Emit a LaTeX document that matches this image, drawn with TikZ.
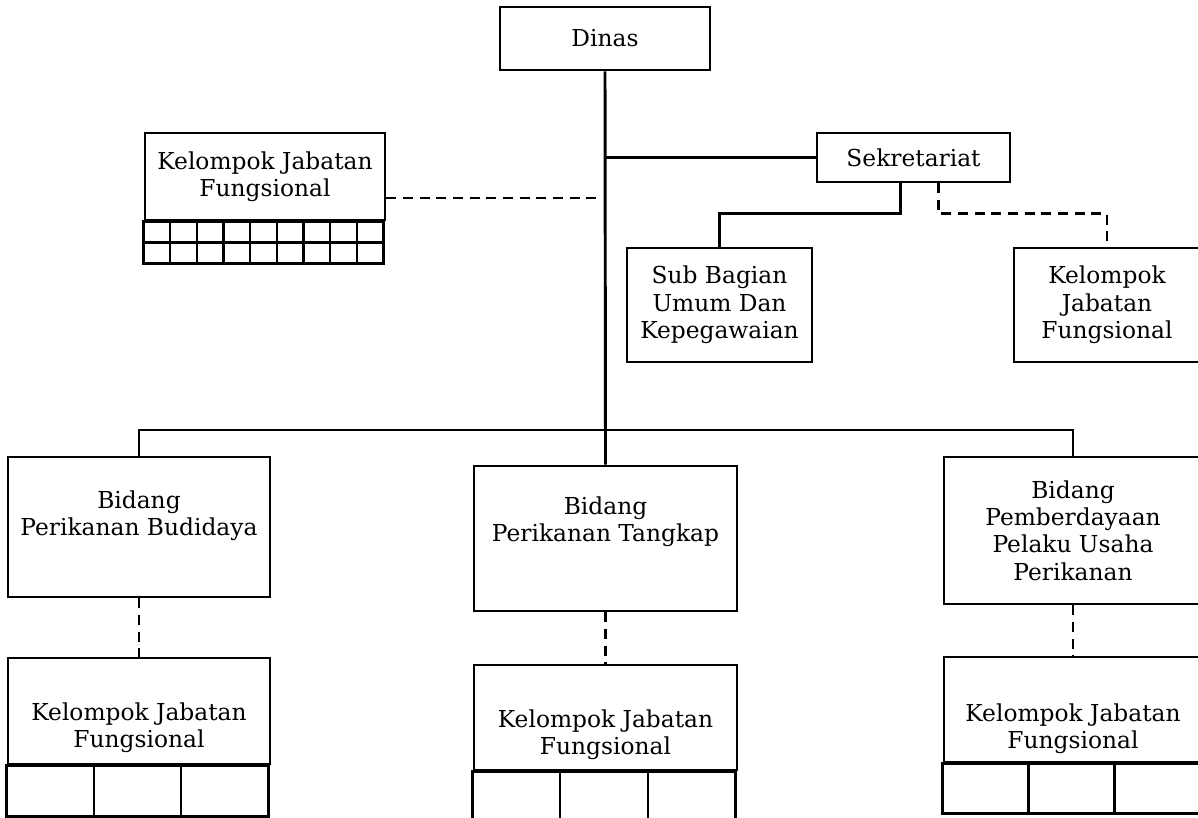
\documentclass[tikz,border=0pt]{standalone}
\usepackage{fontspec}
\setmainfont{DejaVu Serif}
\usetikzlibrary{positioning}

\tikzset{
  box/.style={draw, line width=2.2pt, inner sep=0pt, align=center},
  lbl/.style={inner sep=0pt, align=center},
  link/.style={line width=2.2pt},
  dashlink/.style={line width=2.2pt, dash pattern=on 7.5pt off 5pt},
  cell/.style={line width=1.6pt},
}

\begin{document}
\begin{tikzpicture}[x=0.75pt,y=-0.75pt,font=\fontsize{17.5}{20.5}\selectfont]
	\clip (0,0) rectangle (1198,817);
	% top
	\node[box, minimum width=157.5pt, minimum height=47.25pt] (dinas) at (605,38.5) {Dinas};
	\node[box, minimum width=144.75pt, minimum height=36.75pt] (sekr) at (913.5,157.5) {Sekretariat};
	\node[box, minimum width=180pt, minimum height=65.25pt] (kjf0) at (265,176.5) {Kelompok Jabatan\\Fungsional};
	\node[box, minimum width=138.75pt, minimum height=85.5pt] (subbag) at (719.5,305) {Sub Bagian\\Umum Dan\\Kepegawaian};
	\node[box, minimum width=139.5pt, minimum height=85.5pt] (kjfs) at (1107,305) {Kelompok\\Jabatan\\Fungsional};
	% bidang
	\node[box, minimum width=196.5pt, minimum height=105pt] (bid1) at (139,527) {};
	\node[lbl] (bid1txt) at (139,516) {Bidang\\Perikanan Budidaya};
	\node[box, minimum width=197.25pt, minimum height=108.75pt] (bid2) at (605.5,538.5) {};
	\node[lbl] (bid2txt) at (605.5,522) {Bidang\\Perikanan Tangkap};
	\node[box, minimum width=193.5pt, minimum height=110.25pt] (bid3) at (1073,530.5) {Bidang\\Pemberdayaan\\Pelaku Usaha\\Perikanan};
	% kelompok jabatan fungsional bawah
	\node[box, minimum width=196.5pt, minimum height=79.5pt] (kjf1) at (139,711) {};
	\node[lbl] (kjf1txt) at (139,728) {Kelompok Jabatan\\Fungsional};
	\node[box, minimum width=197.25pt, minimum height=78.75pt] (kjf2) at (605.5,717.5) {};
	\node[lbl] (kjf2txt) at (605.5,735) {Kelompok Jabatan\\Fungsional};
	\node[box, minimum width=193.5pt, minimum height=78.75pt] (kjf3) at (1073,709.5) {};
	\node[lbl] (kjf3txt) at (1073,729) {Kelompok Jabatan\\Fungsional};

	% kotak kecil
	\draw[link] (kjf0.south west) rectangle ++(240,42);
	\draw[cell] ([yshift=-15.75pt]kjf0.south west) -- ++(240,0);
	\foreach \k in {1,...,8}
		\draw[cell] ([xshift=\k*20pt]kjf0.south west) -- ++(0,42);
	\draw[link] (kjf1.south west) rectangle ++(262,51);
	\draw[link] (kjf2.south west) rectangle ++(263,80);
	\draw[link] (kjf3.south west) rectangle ++(258,50);
	\foreach \k in {1,2} {
		\draw[cell] ([xshift=\k*65.5pt]kjf1.south west) -- ++(0,51);
		\draw[cell] ([xshift=\k*65.75pt]kjf2.south west) -- ++(0,80);
		\draw[cell] ([xshift=\k*64.5pt]kjf3.south west) -- ++(0,50);
	}

	% garis
	\coordinate (bar) at (605,430);
	\coordinate (tee) at (dinas.south |- sekr.west);
	\coordinate (kjf0tap) at (600,198);
	\draw[link] (dinas.south) -- (bid2.north);
	\draw[link] (tee) -- (sekr.west);
	\draw[link] (bid1.north) |- (bar) -| (bid3.north);
	\draw[link] ([xshift=-10pt]sekr.south) -- ++(0,30) -| (subbag.north);
	\draw[dashlink] ([xshift=18.4pt]sekr.south) -- ++(0,30) -| (kjfs.north);
	\draw[dashlink] (kjf0tap -| kjf0.east) -- (kjf0tap);
	\draw[dashlink] (bid1.south) -- (kjf1.north);
	\draw[dashlink] (bid2.south) -- (kjf2.north);
	\draw[dashlink] (bid3.south) -- (kjf3.north);
\end{tikzpicture}
\end{document}
